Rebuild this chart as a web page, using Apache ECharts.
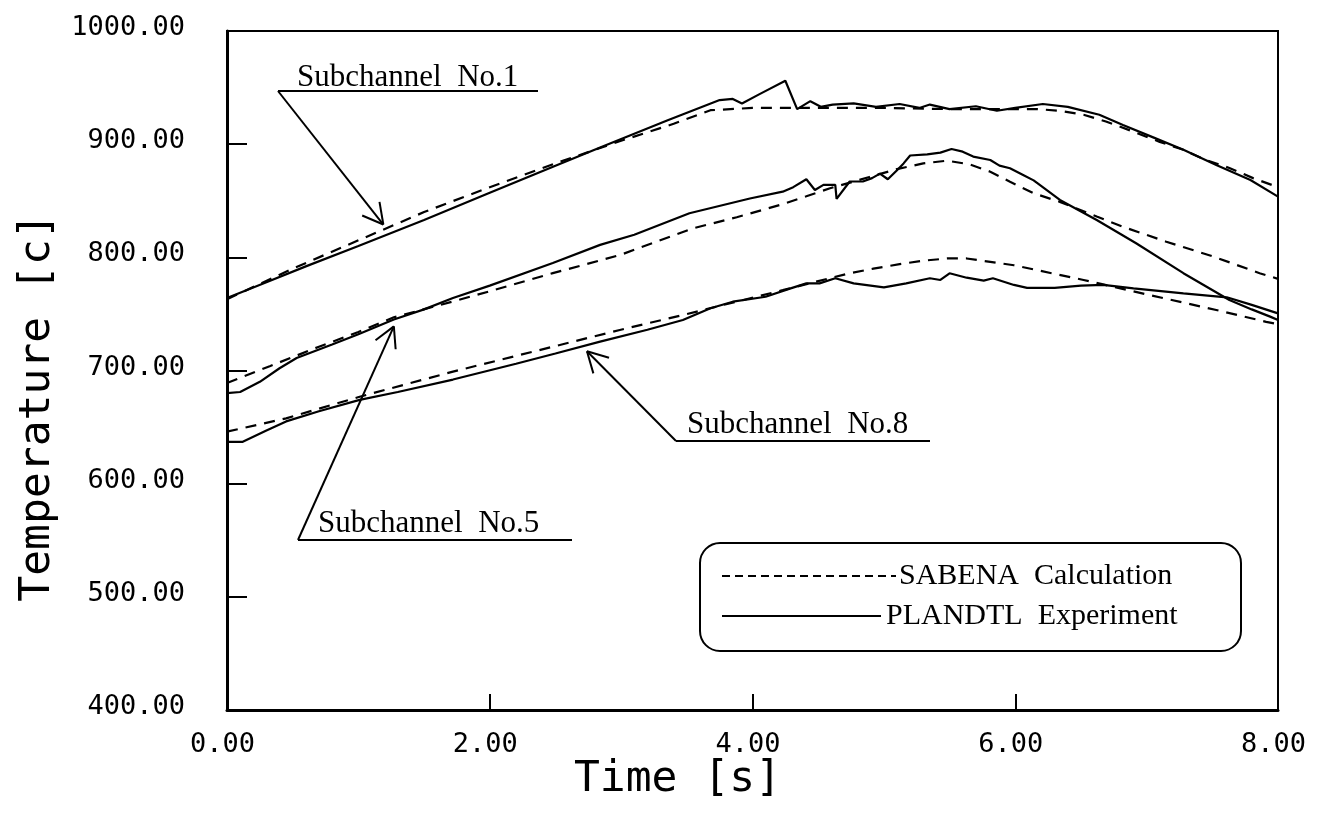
<!DOCTYPE html>
<html>
<head>
<meta charset="utf-8">
<title>Temperature transient — SABENA vs PLANDTL</title>
<script src="https://cdn.jsdelivr.net/npm/echarts@6/dist/echarts.min.js"></script>
<style>
  html, body { margin: 0; padding: 0; background: #fff; }
  #chart { width: 1317px; height: 819px; }
</style>
</head>
<body>
<div id="chart"></div>
<script>
// ---- Data: time [s] and temperature [c] per subchannel ----
// Subchannel No.1
const sub1ExpT  = [0, 0.3, 0.6, 1.0, 1.5, 2.0, 2.5, 2.84, 3.35, 3.75, 3.85, 3.92, 4.05, 4.25, 4.34, 4.44, 4.52, 4.61, 4.77, 4.94, 5.12, 5.27, 5.35, 5.5, 5.7, 5.86, 6.0, 6.21, 6.4, 6.64, 6.82, 7.05, 7.28, 7.53, 7.79, 8.0];
const sub1ExpY  = [764, 778, 792, 810, 833, 857, 881, 897, 921, 939, 940, 936, 944, 956, 931, 938, 933, 935, 936, 933, 935.5, 932, 935, 931, 933.5, 929.5, 932, 935.5, 933, 926, 917, 906, 895, 881.6, 868.3, 853.6];
const sub1CalcT = [0, 0.5, 1.0, 1.5, 2.0, 2.5, 3.0, 3.4, 3.68, 4.0, 4.5, 5.0, 5.5, 5.9, 6.16, 6.34, 6.52, 6.69, 6.9, 7.1, 7.28, 7.45, 7.63, 7.81, 8.0];
const sub1CalcY = [763, 790, 815, 840, 862, 883, 903, 918, 930, 932, 932, 932, 931, 931, 931, 929.5, 926, 920, 911, 902, 895, 886, 879, 870, 862];

// Subchannel No.5
const sub5ExpT  = [0, 0.1, 0.25, 0.4, 0.53, 0.8, 1.0, 1.27, 1.5, 1.72, 2.0, 2.48, 2.84, 3.1, 3.52, 3.98, 4.23, 4.31, 4.41, 4.475, 4.54, 4.63, 4.64, 4.74, 4.84, 4.91, 4.97, 5.03, 5.1, 5.15, 5.2, 5.33, 5.43, 5.515, 5.6, 5.68, 5.81, 5.88, 5.96, 6.06, 6.14, 6.34, 6.62, 6.92, 7.28, 7.63, 7.8, 7.94, 8.0];
const sub5ExpY  = [680, 681, 690, 702, 711, 723, 732, 745, 754, 764, 775, 795, 811, 820, 839, 852, 858, 862, 869, 859.5, 864, 864, 851.6, 867, 867, 870, 874, 869, 877, 883, 890, 891, 892.5, 895.7, 893.4, 889, 886, 881, 878.7, 872.8, 868, 850.7, 833, 812.4, 786, 762.3, 754, 747.6, 744.6];
const sub5CalcT = [0, 0.33, 0.7, 1.0, 1.27, 1.72, 2.0, 2.48, 2.99, 3.55, 3.88, 4.21, 4.41, 4.59, 4.89, 5.1, 5.3, 5.48, 5.65, 5.81, 5.96, 6.14, 6.34, 6.62, 6.82, 7.15, 7.51, 7.86, 8.0];
const sub5CalcY = [689, 704, 721, 734, 747, 761, 770, 786, 802, 825.7, 835.4, 846.3, 854, 861, 871, 878, 883, 885.4, 882.2, 875.7, 866.8, 856.6, 849, 836, 827, 813.8, 800.6, 786, 781];

// Subchannel No.8
const sub8ExpT  = [0, 0.12, 0.3, 0.45, 0.7, 1.01, 1.3, 1.72, 2.2, 2.5, 2.84, 3.2, 3.47, 3.68, 3.85, 4.1, 4.29, 4.41, 4.51, 4.63, 4.77, 5.0, 5.17, 5.35, 5.43, 5.5, 5.63, 5.76, 5.83, 5.99, 6.09, 6.3, 6.5, 6.67, 6.9, 7.28, 7.61, 7.8, 8.0];
const sub8ExpY  = [637, 637, 647, 655, 664, 674, 681, 692, 706, 715, 725.5, 736, 744.6, 755, 760.8, 765.2, 772.6, 777, 777, 781.5, 777, 773.5, 777, 781.5, 780, 785.9, 782, 779.4, 781.5, 775.6, 773, 773, 775, 775.6, 772.6, 768.2, 764.7, 758, 750.5];
const sub8CalcT = [0, 0.45, 1.01, 1.72, 2.48, 2.99, 3.47, 4.23, 4.74, 4.92, 5.12, 5.3, 5.48, 5.63, 5.81, 5.99, 6.52, 7.02, 7.53, 7.91, 8.0];
const sub8CalcY = [646, 657.7, 676.8, 699, 721, 735.8, 749, 771, 786, 790, 794, 797, 799, 799, 796, 793, 780, 766.7, 753.5, 743, 741];

// Axis ranges and labels
const timeRange = [0, 8, 2];
const tempRange = [400, 1000, 100];
const xTitle = 'Time [s]';
const yTitle = 'Temperature [c]';
const calcName = 'SABENA  Calculation';
const expName = 'PLANDTL  Experiment';

// Callout labels: text and the point (time, temperature) each arrow points at
const callouts = [
  { text: 'Subchannel  No.1', tip: [1.19, 829] },
  { text: 'Subchannel  No.5', tip: [1.27, 739] },
  { text: 'Subchannel  No.8', tip: [2.74, 717] }
];

// ---- Styling ----
const INK = '#000';
const MONO = '"DejaVu Sans Mono", "Liberation Mono", monospace';
const SERIF = '"Liberation Serif", "DejaVu Serif", serif';
const DASH = [11, 8];

const pair = (t, y) => t.map((v, i) => [v, y[i]]);

function curve(name, t, y, dashed) {
  return {
    name, type: 'line', data: pair(t, y),
    symbol: 'none', smooth: false, silent: true, clip: true,
    lineStyle: { color: INK, width: 2.2, type: dashed ? DASH : 'solid' },
    z: 3
  };
}

const chart = echarts.init(document.getElementById('chart'), null, { renderer: 'canvas' });

chart.setOption({
  animation: false,
  backgroundColor: '#fff',
  grid: {
    left: 227, right: 39, top: 31, bottom: 109,
    show: true, borderColor: INK, borderWidth: 2,
    outerBoundsMode: 'none', containLabel: false
  },
  xAxis: {
    type: 'value', min: timeRange[0], max: timeRange[1], interval: timeRange[2],
    name: xTitle, nameLocation: 'middle', nameGap: 48, nameMoveOverlap: false,
    nameTextStyle: { fontFamily: MONO, fontSize: 43, color: INK, padding: [0, 150, 0, 0] },
    axisLine: { show: true, onZero: false, lineStyle: { color: INK, width: 3 } },
    axisTick: { show: true, inside: true, length: 16, lineStyle: { color: INK, width: 2 } },
    axisLabel: {
      formatter: v => v.toFixed(2), fontFamily: MONO, fontSize: 27, color: INK,
      margin: 21, padding: [0, 9, 0, 0], showMinLabel: true, showMaxLabel: true
    },
    splitLine: { show: false }
  },
  yAxis: {
    type: 'value', min: tempRange[0], max: tempRange[1], interval: tempRange[2],
    name: yTitle, nameLocation: 'middle', nameGap: 168, nameMoveOverlap: false,
    nameTextStyle: { fontFamily: MONO, fontSize: 43, color: INK, padding: [0, 74, 0, 0] },
    axisLine: { show: true, onZero: false, lineStyle: { color: INK, width: 3 } },
    axisTick: { show: true, inside: true, length: 20, lineStyle: { color: INK, width: 2 } },
    axisLabel: {
      formatter: v => v.toFixed(2), fontFamily: MONO, fontSize: 27, color: INK,
      margin: 42, verticalAlign: 'bottom', lineHeight: 6,
      showMinLabel: true, showMaxLabel: true
    },
    splitLine: { show: false }
  },
  series: [
    curve(calcName, sub1CalcT, sub1CalcY, true),
    curve(expName, sub1ExpT, sub1ExpY, false),
    curve(calcName, sub5CalcT, sub5CalcY, true),
    curve(expName, sub5ExpT, sub5ExpY, false),
    curve(calcName, sub8CalcT, sub8CalcY, true),
    curve(expName, sub8ExpT, sub8ExpY, false)
  ]
});

// ---- Callouts (leader + open arrowhead + underlined label) and the legend box ----
const stroke = { stroke: INK, lineWidth: 2 };

function seg(x1, y1, x2, y2, extra) {
  return { type: 'line', silent: true, z: 10,
    shape: { x1, y1, x2, y2 }, style: Object.assign({}, stroke, extra || {}) };
}

function arrowHead(tip, from, len, spread) {
  const a = Math.atan2(from[1] - tip[1], from[0] - tip[0]);
  return [-1, 1].map(s => seg(tip[0], tip[1],
    tip[0] + len * Math.cos(a + s * spread), tip[1] + len * Math.sin(a + s * spread)));
}

function label(text, x, y, size) {
  return { type: 'text', silent: true, z: 10, x, y,
    style: { text, fill: INK, font: size + 'px ' + SERIF, textAlign: 'left', textVerticalAlign: 'middle' } };
}

// pixel layout of each callout: underline from (ux1, uy) to (ux2, uy); leader starts at (ux1, uy)
const calloutLayout = [
  { ux1: 278, ux2: 538, uy: 91,  tx: 297, ty: 78 },
  { ux1: 298, ux2: 572, uy: 540, tx: 318, ty: 524 },
  { ux1: 676, ux2: 930, uy: 441, tx: 687, ty: 425 }
];

const elements = [];
callouts.forEach((c, i) => {
  const L = calloutLayout[i];
  const tip = chart.convertToPixel({ gridIndex: 0 }, c.tip);
  const start = [L.ux1, L.uy];
  elements.push(seg(L.ux1, L.uy, L.ux2, L.uy));
  elements.push(seg(start[0], start[1], tip[0], tip[1]));
  arrowHead(tip, start, 23, 0.5).forEach(e => elements.push(e));
  elements.push(label(c.text, L.tx, L.ty, 31));
});

// legend box
const lg = { x: 700, y: 543, w: 541, h: 108, row1: 576, row2: 616 };
elements.push({ type: 'rect', silent: true, z: 10,
  shape: { x: lg.x, y: lg.y, width: lg.w, height: lg.h, r: 20 },
  style: { fill: '#fff', stroke: INK, lineWidth: 2 } });
elements.push(seg(722, lg.row1, 896, lg.row1, { lineDash: [8, 5] }));
elements.push(label(calcName, 899, lg.row1, 30));
elements.push(seg(722, lg.row2, 881, lg.row2));
elements.push(label(expName, 886, lg.row2, 30));

chart.setOption({ graphic: { elements } });
</script>
</body>
</html>
